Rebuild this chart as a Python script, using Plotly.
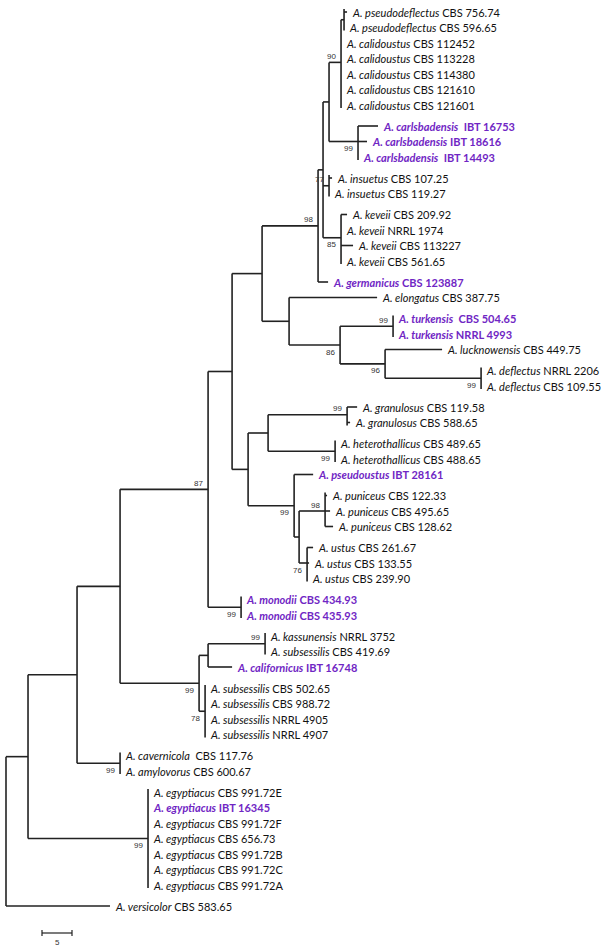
import plotly.graph_objects as go

# ---------------- data ----------------
species = [
    "A. pseudodeflectus", "A. pseudodeflectus",
    "A. calidoustus", "A. calidoustus", "A. calidoustus", "A. calidoustus", "A. calidoustus",
    "A. carlsbadensis", "A. carlsbadensis", "A. carlsbadensis",
    "A. insuetus", "A. insuetus",
    "A. keveii", "A. keveii", "A. keveii", "A. keveii",
    "A. germanicus", "A. elongatus",
    "A. turkensis", "A. turkensis",
    "A. lucknowensis", "A. deflectus", "A. deflectus",
    "A. granulosus", "A. granulosus",
    "A. heterothallicus", "A. heterothallicus",
    "A. pseudoustus",
    "A. puniceus", "A. puniceus", "A. puniceus",
    "A. ustus", "A. ustus", "A. ustus",
    "A. monodii", "A. monodii",
    "A. kassunensis", "A. subsessilis", "A. californicus",
    "A. subsessilis", "A. subsessilis", "A. subsessilis", "A. subsessilis",
    "A. cavernicola", "A. amylovorus",
    "A. egyptiacus", "A. egyptiacus", "A. egyptiacus", "A. egyptiacus",
    "A. egyptiacus", "A. egyptiacus", "A. egyptiacus",
    "A. versicolor",
]
strains = [
    "CBS 756.74", "CBS 596.65",
    "CBS 112452", "CBS 113228", "CBS 114380", "CBS 121610", "CBS 121601",
    "&nbsp;IBT 16753", "IBT 18616", "&nbsp;IBT 14493",
    "CBS 107.25", "CBS 119.27",
    "CBS 209.92", "NRRL 1974", "CBS 113227", "CBS 561.65",
    "CBS 123887", "CBS 387.75",
    "&nbsp;CBS 504.65", "NRRL 4993",
    "CBS 449.75", "NRRL 2206", "CBS 109.55",
    "CBS 119.58", "CBS 588.65",
    "CBS 489.65", "CBS 488.65",
    "IBT 28161",
    "CBS 122.33", "CBS 495.65", "CBS 128.62",
    "CBS 261.67", "CBS 133.55", "CBS 239.90",
    "CBS 434.93", "CBS 435.93",
    "NRRL 3752", "CBS 419.69", "IBT 16748",
    "CBS 502.65", "CBS 988.72", "NRRL 4905", "NRRL 4907",
    "&nbsp;CBS 117.76", "CBS 600.67",
    "CBS 991.72E", "IBT 16345", "CBS 991.72F", "CBS 656.73",
    "CBS 991.72B", "CBS 991.72C", "CBS 991.72A",
    "CBS 583.65",
]
new_taxa = [7, 8, 9, 16, 18, 19, 27, 34, 35, 38, 46]

# topology with branch lengths (scale-bar units) and bootstrap values
TREE = (
    "(((((((((((("
    "0:0.5,1:0):0.5,2:0,3:0,4:0,5:0,6:0)90:2.0,"
    "(7:3.33,8:1.5,9:0)99:4.83):1.0,"
    "(10:0.5,11:0)77:1.0,"
    "(12:1.0,13:0,14:2.0,15:0)85:3.0):0.83,"
    "16:1.67)98:9.33,"
    "(17:14.67,((18:0,19:0)99:8.83,(20:9.5,(21:0,22:0)99:16.0)96:7.5)86:8.5):4.5):5.0,"
    "(((23:1.67,24:0.5)99:13.17,(25:0,26:0)99:11.17):3.33,"
    "(27:3.17,((28:0.33,29:0.83,30:1.33)98:4.33,(31:1.0,32:0.33,33:0)76:1.33):0.83)99:7.67):2.67):4.0,"
    "(34:0,35:0)99:5.5)87:14.67,"
    "(((36:0,37:0)99:9.5,38:4.0):1.5,(39:0,40:0,41:0,42:0)78:1.0)99:13.17):7.17,"
    "(43:0,44:0)99:7.17):8.17,"
    "(45:0,46:0,47:0,48:0,49:0,50:0,51:0)99:20.0):3.67,"
    "52:17.33);"
)
scale_bar_length = 5

# ---------------- parse ----------------
def parse(s):
    pos = 0

    def node(parent):
        nonlocal pos
        n = {"children": [], "label": None, "length": 0.0, "leaf": None, "parent": parent}
        if s[pos] == "(":
            pos += 1
            while True:
                n["children"].append(node(n))
                if s[pos] == ",":
                    pos += 1
                    continue
                if s[pos] == ")":
                    pos += 1
                    break
            st = pos
            while s[pos] not in ":,);":
                pos += 1
            n["label"] = s[st:pos] or None
        else:
            st = pos
            while s[pos] not in ":,);":
                pos += 1
            n["leaf"] = int(s[st:pos])
        if s[pos] == ":":
            pos += 1
            st = pos
            while s[pos] not in ",);":
                pos += 1
            n["length"] = float(s[st:pos])
        return n

    return node(None)

root = parse(TREE)

# ---------------- layout ----------------
leaves = []
def set_x(n, x0):
    n["x"] = x0 + n["length"]
    if n["leaf"] is not None:
        leaves.append(n)
    for c in n["children"]:
        set_x(c, n["x"])
root["length"] = 0.0
set_x(root, 0.0)

def ancestors(n):
    out = []
    p = n["parent"]
    while p is not None:
        out.append(p)
        p = p["parent"]
    return out

ROW, BIG = 15.5, 21.0
y = 12.0
for i, lf in enumerate(leaves):
    if i > 0:
        prev = leaves[i - 1]
        p, pp = lf["parent"], prev["parent"]
        leaf_kids = [c for c in p["children"] if c["leaf"] is not None]
        gap = ROW
        if p is not pp:
            if len(leaf_kids) >= 2 and leaf_kids[0] is lf and pp["parent"] is not p:
                gap = BIG
            elif (len(leaf_kids) == 1 and p["children"][-1] is lf
                  and pp["parent"] is not p and p in ancestors(pp)):
                gap = BIG
        y += gap
    lf["y"] = y

def set_y(n):
    if n["leaf"] is not None:
        return n["y"]
    ys_ = [set_y(c) for c in n["children"]]
    n["y"] = (ys_[0] + ys_[-1]) / 2
    return n["y"]
set_y(root)

xs, ys = [], []
boot = []
def draw(n, is_last):
    if n["parent"] is not None and n["length"] > 0:
        xs.extend([n["parent"]["x"], n["x"], None])
        ys.extend([n["y"], n["y"], None])
    if n["children"]:
        a, b = n["children"][0], n["children"][-1]
        ya = a["y"] - (3 if a["leaf"] is not None and a["length"] < 0.6 else 0)
        yb = b["y"] + (3 if b["leaf"] is not None and b["length"] < 0.6 else 0)
        xs.extend([n["x"], n["x"], None])
        ys.extend([ya, yb, None])
        if n["label"]:
            boot.append((n["x"], n["y"], n["label"], is_last))
        for k, c in enumerate(n["children"]):
            draw(c, k == len(n["children"]) - 1)
draw(root, False)

W, H = 602, 949
origin_px = 6.0
unit_px = 6.0

fig = go.Figure()
fig.add_trace(go.Scatter(x=xs, y=ys, mode="lines",
                         line=dict(color="#222222", width=1.6),
                         hoverinfo="skip", showlegend=False, cliponaxis=False))

annotations = []
PURPLE = "#7026c4"
for lf in leaves:
    i = lf["leaf"]
    if i in new_taxa:
        txt = f"<b><i>{species[i]}</i> {strains[i]}</b>"
        col = PURPLE
    else:
        txt = f"<i>{species[i]}</i> {strains[i]}"
        col = "#111111"
    annotations.append(dict(x=lf["x"], y=lf["y"], text=txt, showarrow=False,
                            xanchor="left", yanchor="middle", xshift=3,
                            font=dict(family="Lato", size=11, color=col)))

for (bx, by, lab, last) in boot:
    annotations.append(dict(x=bx, y=by, text=lab, showarrow=False,
                            xanchor="right", yanchor="middle", xshift=-3,
                            yshift=(-7 if last else 6),
                            font=dict(family="Liberation Sans", size=8, color="#333333")))

# scale bar
sb_x0 = 6.0
sb_y = 933
fig.add_trace(go.Scatter(
    x=[sb_x0, sb_x0 + scale_bar_length, None, sb_x0, sb_x0, None,
       sb_x0 + scale_bar_length, sb_x0 + scale_bar_length],
    y=[sb_y, sb_y, None, sb_y - 3, sb_y + 3, None, sb_y - 3, sb_y + 3],
    mode="lines", line=dict(color="#222222", width=1.2),
    hoverinfo="skip", showlegend=False, cliponaxis=False))
annotations.append(dict(x=sb_x0 + scale_bar_length / 2, y=sb_y + 9, text=str(scale_bar_length),
                        showarrow=False, font=dict(family="Liberation Sans", size=8, color="#333333")))

fig.update_layout(
    width=W, height=H,
    margin=dict(l=0, r=0, t=0, b=0),
    plot_bgcolor="white", paper_bgcolor="white",
    xaxis=dict(range=[-origin_px / unit_px, (W - origin_px) / unit_px],
               visible=False, fixedrange=True),
    yaxis=dict(range=[H, 0], visible=False, fixedrange=True),
    annotations=annotations,
)

fig.write_html("out.html", config={"displayModeBar": False},
               post_script="document.body.style.margin='0';document.body.style.overflow='hidden';")
